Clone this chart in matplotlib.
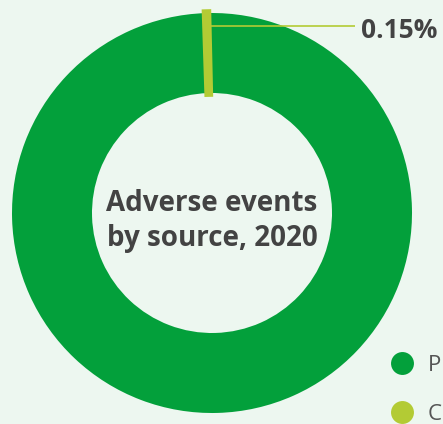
import numpy as np
import matplotlib
matplotlib.use("Agg")
import matplotlib.pyplot as plt
from matplotlib.lines import Line2D

plt.rcParams['font.family'] = ['Open Sans', 'DejaVu Sans']

# ====== data ======
sources = ["P", "C"]   # only the first letters are visible in the source picture
shares = [99.85, 0.15]
share_label = "0.15%"
title_text = "Adverse events\nby source, 2020"

colors = ["#03a03b", "#b3cb34"]
bg = "#edf7f0"
text_dark = "#434343"

W, H = 443, 424
fig = plt.figure(figsize=(W / 100, H / 100), dpi=100, facecolor=bg)
ax = fig.add_axes([0, 0, 1, 1])
ax.set_facecolor(bg)

cx, cy = 212, H - 213
r_out, ring = 200, 80

wedges, _ = ax.pie(shares, colors=colors, center=(cx, cy), radius=r_out,
                   startangle=91.3, counterclock=False,
                   wedgeprops=dict(width=ring, linewidth=0))
# tiny slice would vanish, thicken its outline a little
wedges[1].set_edgecolor(colors[1])
wedges[1].set_linewidth(5.5)

ax.set_xlim(0, W)
ax.set_ylim(0, H)
ax.set_aspect('auto')
ax.axis('off')

# leader line from the small slice to its label
w = wedges[1]
mid = np.deg2rad((w.theta1 + w.theta2) / 2)
r_lab = 187
x0 = cx + r_lab * np.cos(mid) + 3
y0 = cy + r_lab * np.sin(mid)
ax.plot([x0, 355], [y0, y0], color=colors[1], lw=1.2, solid_capstyle='butt')
ax.text(361, y0 - 4, share_label, ha='left', va='center', fontsize=19,
        fontweight='bold', color=text_dark)

# centre title
ax.text(cx, H - 221, title_text, ha='center', va='center', fontsize=20,
        fontweight='bold', color=text_dark, linespacing=1.3)

# legend
handles = [Line2D([], [], marker='o', ls='', markersize=16.5,
                  markerfacecolor=c, markeredgewidth=0) for c in colors]
leg = ax.legend(handles, sources, loc='upper left',
                bbox_to_anchor=(391 / W, 1 - 355 / H), frameon=False,
                fontsize=16, labelspacing=1.25, handletextpad=0.65,
                handlelength=1.0, borderpad=0, borderaxespad=0,
                labelcolor="#555555")

fig.savefig("out.png", dpi=100, facecolor=bg)
